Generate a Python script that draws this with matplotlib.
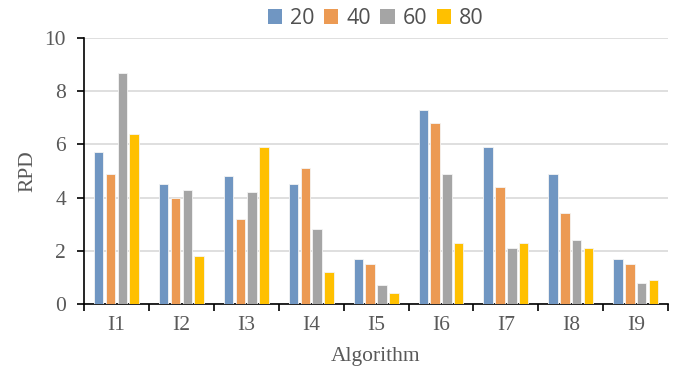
import matplotlib
matplotlib.use("Agg")
import matplotlib.pyplot as plt
import numpy as np
from matplotlib.patches import Patch

categories = ["I1", "I2", "I3", "I4", "I5", "I6", "I7", "I8", "I9"]
series_names = ["20", "40", "60", "80"]
values_20 = [5.7, 4.5, 4.8, 4.5, 1.7, 7.3, 5.9, 4.9, 1.7]
values_40 = [4.9, 4.0, 3.2, 5.1, 1.5, 6.8, 4.4, 3.4, 1.5]
values_60 = [8.7, 4.3, 4.2, 2.8, 0.7, 4.9, 2.1, 2.4, 0.8]
values_80 = [6.4, 1.8, 5.9, 1.2, 0.4, 2.3, 2.3, 2.1, 0.9]
y_ticks = [0, 2, 4, 6, 8, 10]

series = [values_20, values_40, values_60, values_80]
colors = ["#7096C2", "#EC9A53", "#A5A5A5", "#FFC000"]
text_color = "#595959"
serif = "Liberation Serif"
fs = 15.5

fig = plt.figure(figsize=(6.77, 3.72), dpi=100)
ax = fig.add_axes([0.124, 0.183, 0.863, 0.715])

x = np.arange(len(categories))
step = 0.182
width = 0.145
for i, (vals, col) in enumerate(zip(series, colors)):
    offs = (i - 1.5) * step
    ax.bar(x + offs, vals, width=width, color=col, edgecolor="#f4f4f4",
           linewidth=0.6, zorder=3)

ax.set_xlim(-0.5, len(categories) - 0.5)
ax.set_ylim(0, 10)
ax.set_yticks(y_ticks)
ax.set_yticklabels([str(t) for t in y_ticks], fontfamily=serif,
                   fontsize=fs, color=text_color)
ax.yaxis.grid(True, color="#d9d9d9", linewidth=1.2, zorder=0)
ax.set_axisbelow(True)

# category labels centred, ticks on the group boundaries
ax.set_xticks(np.arange(-0.5, len(categories), 1.0))
ax.set_xticklabels([])
ax.set_xticks(x, minor=True)
ax.set_xticklabels(categories, minor=True, fontfamily=serif,
                   fontsize=fs, color=text_color)
ax.tick_params(axis="x", which="major", direction="out", length=5, width=1.2,
               color="black")
ax.tick_params(axis="x", which="minor", length=0, pad=9)
ax.tick_params(axis="y", direction="out", length=5, width=1.2, color="black",
               pad=8)

for side in ["top", "right"]:
    ax.spines[side].set_visible(False)
for side in ["left", "bottom"]:
    ax.spines[side].set_color("black")
    ax.spines[side].set_linewidth(1.2)

ax.set_xlabel("Algorithm", fontfamily=serif, fontsize=fs,
              color=text_color, labelpad=8)
ax.set_ylabel("RPD", fontfamily=serif, fontsize=fs,
              color=text_color, labelpad=5)

handles = [Patch(facecolor=c, edgecolor="none") for c in colors]
leg = fig.legend(handles, series_names, loc="center", ncol=4,
                 bbox_to_anchor=(0.555, 0.95), frameon=False,
                 prop={"family": "Open Sans", "size": 15.5},
                 handlelength=0.66, handleheight=0.66, handletextpad=0.36,
                 columnspacing=0.45, borderpad=0.1)
for t in leg.get_texts():
    t.set_color("#505050")

fig.savefig("out.png", dpi=100)
